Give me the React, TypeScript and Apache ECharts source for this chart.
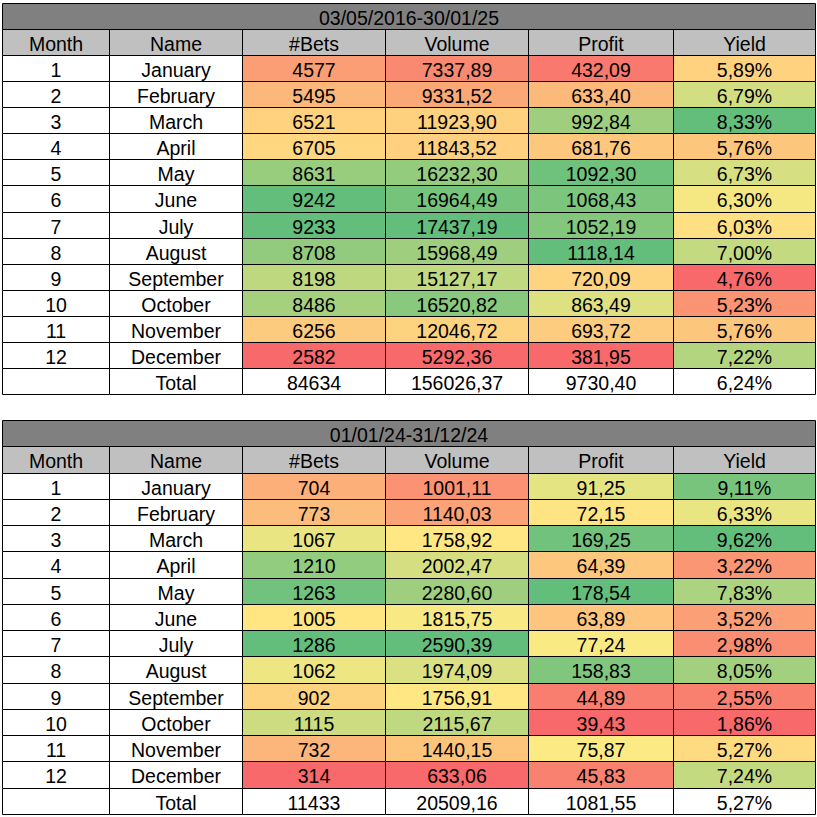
import React, { useEffect, useRef } from "react";
import * as echarts from "echarts";

// ---------- DATA ----------
const headers = ["Month", "Name", "#Bets", "Volume", "Profit", "Yield"];
const monthNumbers = ["1", "2", "3", "4", "5", "6", "7", "8", "9", "10", "11", "12"];
const monthNames = [
  "January", "February", "March", "April", "May", "June",
  "July", "August", "September", "October", "November", "December",
];
const totalLabel = "Total";

const title1 = "03/05/2016-30/01/25";
const bets1 = [4577, 5495, 6521, 6705, 8631, 9242, 9233, 8708, 8198, 8486, 6256, 2582];
const volume1 = [7337.89, 9331.52, 11923.9, 11843.52, 16232.3, 16964.49, 17437.19, 15968.49, 15127.17, 16520.82, 12046.72, 5292.36];
const profit1 = [432.09, 633.4, 992.84, 681.76, 1092.3, 1068.43, 1052.19, 1118.14, 720.09, 863.49, 693.72, 381.95];
const yield1 = [5.89, 6.79, 8.33, 5.76, 6.73, 6.3, 6.03, 7.0, 4.76, 5.23, 5.76, 7.22];
const totals1 = [84634, 156026.37, 9730.4, 6.24];

const title2 = "01/01/24-31/12/24";
const bets2 = [704, 773, 1067, 1210, 1263, 1005, 1286, 1062, 902, 1115, 732, 314];
const volume2 = [1001.11, 1140.03, 1758.92, 2002.47, 2280.6, 1815.75, 2590.39, 1974.09, 1756.91, 2115.67, 1440.15, 633.06];
const profit2 = [91.25, 72.15, 169.25, 64.39, 178.54, 63.89, 77.24, 158.83, 44.89, 39.43, 75.87, 45.83];
const yield2 = [9.11, 6.33, 9.62, 3.22, 7.83, 3.52, 2.98, 8.05, 2.55, 1.86, 5.27, 7.24];
const totals2 = [11433, 20509.16, 1081.55, 5.27];

// ---------- LAYOUT / STYLE ----------
const COL_EDGES = [0, 107, 240, 383, 526, 671, 813]; // relative column boundaries
const TABLE_W = 813;
const FONT = '19.5px "Liberation Sans", Arial, sans-serif';
const LOW = [248, 105, 107];
const MID = [255, 235, 132];
const HIGH = [99, 190, 123];

function lerp(a: number[], b: number[], t: number) {
  const c = a.map((v, i) => Math.round(v + (b[i] - v) * t));
  return `rgb(${c[0]},${c[1]},${c[2]})`;
}
function scaleColor(v: number, arr: number[]) {
  const s = [...arr].sort((a, b) => a - b);
  const min = s[0];
  const max = s[s.length - 1];
  const pos = (s.length - 1) * 0.5;
  const lo = Math.floor(pos);
  const mid = s[lo] + (s[Math.ceil(pos)] - s[lo]) * (pos - lo);
  if (v <= mid) return lerp(LOW, MID, mid === min ? 1 : (v - min) / (mid - min));
  return lerp(MID, HIGH, max === mid ? 0 : (v - mid) / (max - mid));
}
const fmt2 = (v: number) => v.toFixed(2).replace(".", ",");
const fmtPct = (v: number) => fmt2(v) + "%";
const fmtInt = (v: number) => String(v);

type Cell = { c0: number; c1: number; row: number; text: string; fill: string };

function buildCells(title: string, bets: number[], volume: number[], profit: number[], yld: number[], totals: number[]) {
  const cells: Cell[] = [];
  cells.push({ c0: 0, c1: 6, row: 0, text: title, fill: "#808080" });
  headers.forEach((h, i) => cells.push({ c0: i, c1: i + 1, row: 1, text: h, fill: "#C0C0C0" }));
  const cols = [bets, volume, profit, yld];
  const fmts = [fmtInt, fmt2, fmt2, fmtPct];
  monthNumbers.forEach((m, r) => {
    cells.push({ c0: 0, c1: 1, row: r + 2, text: m, fill: "#FFFFFF" });
    cells.push({ c0: 1, c1: 2, row: r + 2, text: monthNames[r], fill: "#FFFFFF" });
    cols.forEach((arr, k) => {
      cells.push({ c0: k + 2, c1: k + 3, row: r + 2, text: fmts[k](arr[r]), fill: scaleColor(arr[r], arr) });
    });
  });
  const tr = monthNumbers.length + 2;
  cells.push({ c0: 0, c1: 1, row: tr, text: "", fill: "#FFFFFF" });
  cells.push({ c0: 1, c1: 2, row: tr, text: totalLabel, fill: "#FFFFFF" });
  totals.forEach((t, k) => cells.push({ c0: k + 2, c1: k + 3, row: tr, text: fmts[k](t), fill: "#FFFFFF" }));
  return cells;
}

const rowKeys = ["title", "header", ...monthNumbers, "total"];

function makeSeries(cells: Cell[], idx: number) {
  return {
    type: "custom",
    xAxisIndex: idx,
    yAxisIndex: idx,
    data: cells.map((c) => [COL_EDGES[c.c0], COL_EDGES[c.c1], c.row]),
    encode: { x: [0, 1], y: 2 },
    renderItem: (params: any, api: any) => {
      const cell = cells[params.dataIndex];
      const p0 = api.coord([api.value(0), api.value(2)]);
      const p1 = api.coord([api.value(1), api.value(2)]);
      const h = api.size([0, 1])[1];
      const x0 = Math.round(p0[0]) + 0.5;
      const x1 = Math.round(p1[0]) + 0.5;
      const y0 = Math.round(p0[1] - h / 2) + 0.5;
      const y1 = Math.round(p0[1] + h / 2) + 0.5;
      return {
        type: "group",
        children: [
          {
            type: "rect",
            shape: { x: x0, y: y0, width: x1 - x0, height: y1 - y0 },
            style: { fill: cell.fill, stroke: "#000000", lineWidth: 1 },
          },
          {
            type: "text",
            x: (x0 + x1) / 2,
            y: (y0 + y1) / 2 + 1,
            style: {
              text: cell.text,
              fill: "#000000",
              font: FONT,
              align: "center",
              verticalAlign: "middle",
            },
          },
        ],
      };
    },
  };
}

export default function App() {
  const ref = useRef<HTMLDivElement>(null);
  useEffect(() => {
    if (!ref.current) return;
    const chart = echarts.init(ref.current, null, { renderer: "svg" });
    const cells1 = buildCells(title1, bets1, volume1, profit1, yield1, totals1);
    const cells2 = buildCells(title2, bets2, volume2, profit2, yield2, totals2);
    const xAxisBase = { type: "value", min: 0, max: TABLE_W, show: false, splitLine: { show: false } };
    const yAxisBase = { type: "category", data: rowKeys, inverse: true, show: false, boundaryGap: true };
    chart.setOption({
      animation: false,
      backgroundColor: "#FFFFFF",
      grid: [
        { left: 2, top: 3, width: TABLE_W, height: 391 },
        { left: 2, top: 420, width: TABLE_W, height: 394 },
      ],
      xAxis: [
        { ...xAxisBase, gridIndex: 0 },
        { ...xAxisBase, gridIndex: 1 },
      ],
      yAxis: [
        { ...yAxisBase, gridIndex: 0 },
        { ...yAxisBase, gridIndex: 1 },
      ],
      series: [makeSeries(cells1, 0), makeSeries(cells2, 1)],
    });
    return () => chart.dispose();
  }, []);
  return (
    <div
      ref={ref}
      style={{ position: "absolute", left: 0, top: 0, width: 817, height: 817 }}
    />
  );
}
